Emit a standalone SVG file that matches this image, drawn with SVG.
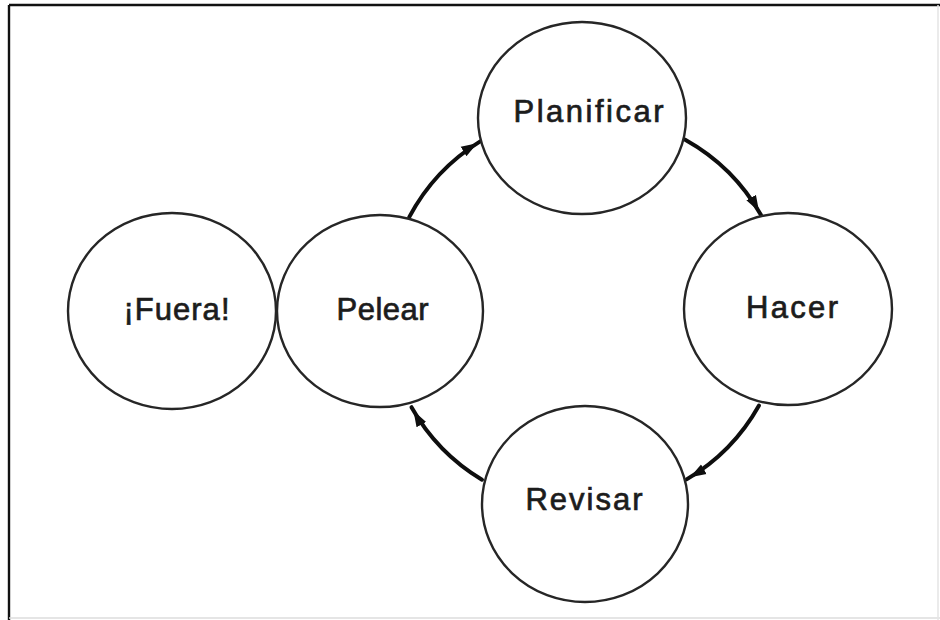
<svg xmlns="http://www.w3.org/2000/svg" width="940" height="620" viewBox="0 0 940 620">
  <style>
    .node ellipse { fill: #ffffff; stroke: #262626; stroke-width: 2.4; }
    .node text { font-family: "Liberation Sans", Arial, sans-serif; font-size: 31px; fill: #1c1c1c; stroke: #1c1c1c; stroke-width: 0.7; text-anchor: middle; }
    .edge { fill: none; stroke: #0e0e0e; stroke-width: 4; stroke-linecap: round; }
  </style>
  <defs>
    <marker id="head" markerUnits="userSpaceOnUse" markerWidth="26" markerHeight="14" viewBox="0 -7 26 14" refX="20" refY="0" orient="auto">
      <path d="M0,-5.5 L16,0 L0,5.5 z" fill="#0e0e0e"/>
    </marker>
  </defs>

  <!-- frame -->
  <rect x="0" y="0" width="940" height="620" fill="#ffffff"/>
  <line x1="9" y1="5" x2="940" y2="5" stroke="#111" stroke-width="2.4"/>
  <line x1="9" y1="5" x2="9" y2="620" stroke="#111" stroke-width="2.4"/>
  <line x1="9" y1="618" x2="940" y2="618" stroke="#dddddd" stroke-width="1.5"/>
  <line x1="938" y1="5" x2="938" y2="620" stroke="#e4e4e4" stroke-width="1.5"/>

  <!-- connectors: arcs of the cycle -->
  <g id="connectors">
    <path class="edge" d="M 409.2 217.1 A 198 198 0 0 1 480.6 141.1" marker-end="url(#head)"/>
    <path class="edge" d="M 685.2 139.7 A 198 198 0 0 1 761 215" marker-end="url(#head)"/>
    <path class="edge" d="M 759 405.5 A 198 198 0 0 1 686.6 479.4" marker-end="url(#head)"/>
    <path class="edge" d="M 482.0 479.7 A 198 198 0 0 1 411.5 407.2" marker-end="url(#head)"/>
  </g>

  <g id="fuera" class="node">
    <ellipse cx="172" cy="311" rx="104" ry="98"/>
    <text x="176.5" y="320" textLength="106" lengthAdjust="spacing">¡Fuera!</text>
  </g>
  <g id="pelear" class="node">
    <ellipse cx="380" cy="311" rx="103" ry="96"/>
    <text x="382.5" y="320" textLength="92" lengthAdjust="spacing">Pelear</text>
  </g>
  <g id="planificar" class="node">
    <ellipse cx="582" cy="118" rx="104" ry="96"/>
    <text x="588.5" y="122" textLength="150" lengthAdjust="spacing">Planificar</text>
  </g>
  <g id="hacer" class="node">
    <ellipse cx="788" cy="309" rx="104" ry="96"/>
    <text x="792" y="318" textLength="92" lengthAdjust="spacing">Hacer</text>
  </g>
  <g id="revisar" class="node">
    <ellipse cx="585" cy="504" rx="103" ry="98"/>
    <text x="584" y="510" textLength="117" lengthAdjust="spacing">Revisar</text>
  </g>
</svg>
